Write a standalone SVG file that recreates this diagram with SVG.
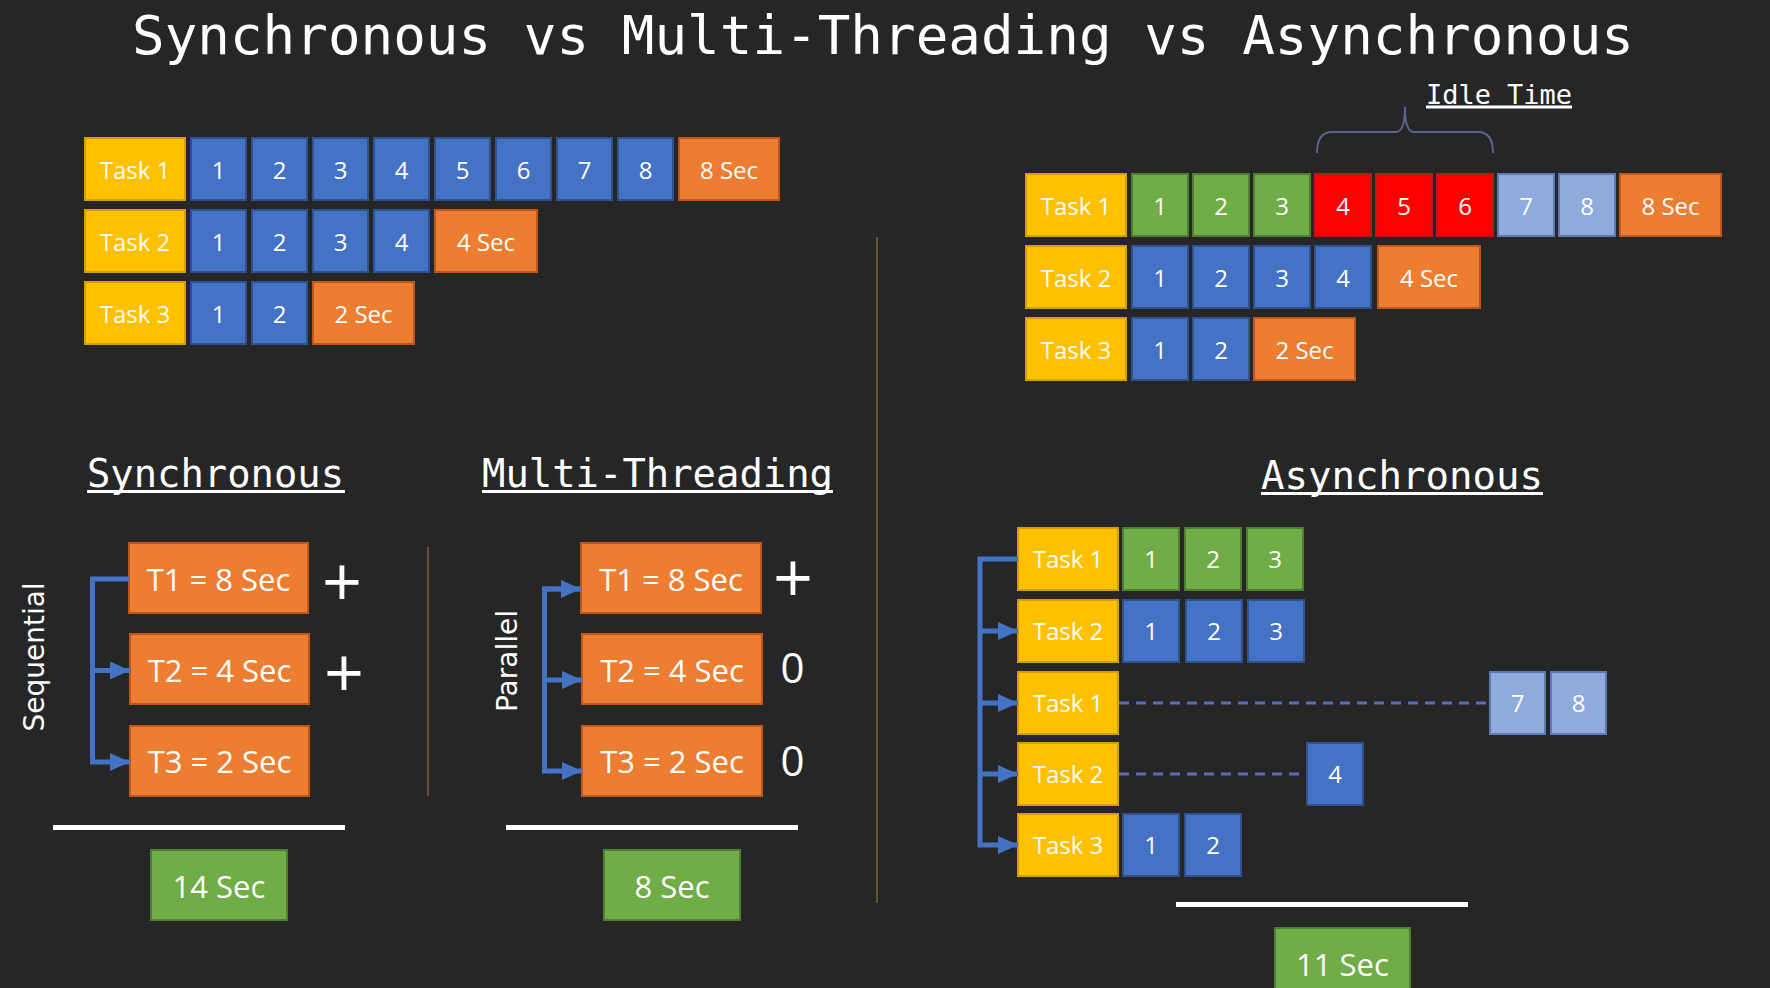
<svg xmlns="http://www.w3.org/2000/svg" width="1770" height="988" viewBox="0 0 1770 988">
<style>
.task{fill:#FFC000;stroke:#D69E00;stroke-width:2}
.blu{fill:#4472C4;stroke:#2F528F;stroke-width:2}
.org{fill:#ED7D31;stroke:#C0561A;stroke-width:2}
.grn{fill:#70AD47;stroke:#507E32;stroke-width:2}
.red{fill:#FF0000;stroke:#B81818;stroke-width:2}
.lbl{fill:#8FAADC;stroke:#5E78B8;stroke-width:2}
.t{font-family:"Open Sans","Liberation Sans",sans-serif;font-size:24px;fill:#fff;text-anchor:middle}
.tb{font-size:31px}
.mono{font-family:"DejaVu Sans Mono","Liberation Mono",monospace;fill:#fff}
.side{font-family:"DejaVu Sans","Liberation Sans",sans-serif;font-size:28px;fill:#fff;text-anchor:middle}
.sym{font-family:"Open Sans","Liberation Sans",sans-serif;fill:#fff;text-anchor:middle}
.conn{fill:none;stroke:#4472C4;stroke-width:5}
.dash{fill:none;stroke:#5B6BB5;stroke-width:3;stroke-dasharray:10 7}
.rule{stroke:#fff;stroke-width:5}
.ul{stroke:#fff;stroke-width:3}
.sep{stroke:#7A6230;stroke-width:1.5}
</style>
<defs>
<marker id="ah" markerUnits="userSpaceOnUse" markerWidth="20" markerHeight="18" refX="20" refY="9" orient="auto">
<path d="M0,0 L20,9 L0,18 z" fill="#4472C4"/>
</marker>
</defs>
<rect x="0" y="0" width="1770" height="988" fill="#262626"/>

<text class="mono" x="132" y="54" font-size="54" textLength="1502" lengthAdjust="spacingAndGlyphs">Synchronous vs Multi-Threading vs Asynchronous</text>

<!-- separators -->
<line class="sep" x1="877" y1="237" x2="877" y2="903"/>
<line class="sep" x1="428" y1="547" x2="428" y2="796"/>

<!-- Top-left sync rows -->
<g id="tl-r1">
<rect class="task" x="85" y="138" width="100" height="62"/><text class="t" x="135" y="178.5">Task 1</text>
<rect class="blu" x="191" y="138" width="55" height="62"/><text class="t" x="218.5" y="178.5">1</text>
<rect class="blu" x="252" y="138" width="55" height="62"/><text class="t" x="279.5" y="178.5">2</text>
<rect class="blu" x="313" y="138" width="55" height="62"/><text class="t" x="340.5" y="178.5">3</text>
<rect class="blu" x="374" y="138" width="55" height="62"/><text class="t" x="401.5" y="178.5">4</text>
<rect class="blu" x="435" y="138" width="55" height="62"/><text class="t" x="462.5" y="178.5">5</text>
<rect class="blu" x="496" y="138" width="55" height="62"/><text class="t" x="523.5" y="178.5">6</text>
<rect class="blu" x="557" y="138" width="55" height="62"/><text class="t" x="584.5" y="178.5">7</text>
<rect class="blu" x="618" y="138" width="55" height="62"/><text class="t" x="645.5" y="178.5">8</text>
<rect class="org" x="679" y="138" width="100" height="62"/><text class="t" x="729" y="178.5">8 Sec</text>
</g>
<g id="tl-r2">
<rect class="task" x="85" y="210" width="100" height="62"/><text class="t" x="135" y="250.5">Task 2</text>
<rect class="blu" x="191" y="210" width="55" height="62"/><text class="t" x="218.5" y="250.5">1</text>
<rect class="blu" x="252" y="210" width="55" height="62"/><text class="t" x="279.5" y="250.5">2</text>
<rect class="blu" x="313" y="210" width="55" height="62"/><text class="t" x="340.5" y="250.5">3</text>
<rect class="blu" x="374" y="210" width="55" height="62"/><text class="t" x="401.5" y="250.5">4</text>
<rect class="org" x="435" y="210" width="102" height="62"/><text class="t" x="486" y="250.5">4 Sec</text>
</g>
<g id="tl-r3">
<rect class="task" x="85" y="282" width="100" height="62"/><text class="t" x="135" y="322.5">Task 3</text>
<rect class="blu" x="191" y="282" width="55" height="62"/><text class="t" x="218.5" y="322.5">1</text>
<rect class="blu" x="252" y="282" width="55" height="62"/><text class="t" x="279.5" y="322.5">2</text>
<rect class="org" x="313" y="282" width="101" height="62"/><text class="t" x="363.5" y="322.5">2 Sec</text>
</g>

<!-- Top-right async rows -->
<g id="idle">
<path d="M1317,153 Q1317,132 1332,132 H1396 Q1405,132 1405,107 Q1405,132 1414,132 H1478 Q1493,132 1493,153" fill="none" stroke="#5A6490" stroke-width="2"/>
<text class="mono" x="1426" y="104" font-size="27" textLength="146" lengthAdjust="spacingAndGlyphs">Idle Time</text>
<line class="ul" x1="1426" y1="107" x2="1572" y2="107" stroke-width="2"/>
</g>
<g id="tr-r1">
<rect class="task" x="1026" y="174" width="100" height="62"/><text class="t" x="1076" y="214.5">Task 1</text>
<rect class="grn" x="1132" y="174" width="56" height="62"/><text class="t" x="1160" y="214.5">1</text>
<rect class="grn" x="1193" y="174" width="56" height="62"/><text class="t" x="1221" y="214.5">2</text>
<rect class="grn" x="1254" y="174" width="56" height="62"/><text class="t" x="1282" y="214.5">3</text>
<rect class="red" x="1315" y="174" width="56" height="62"/><text class="t" x="1343" y="214.5">4</text>
<rect class="red" x="1376" y="174" width="56" height="62"/><text class="t" x="1404" y="214.5">5</text>
<rect class="red" x="1437" y="174" width="56" height="62"/><text class="t" x="1465" y="214.5">6</text>
<rect class="lbl" x="1498" y="174" width="56" height="62"/><text class="t" x="1526" y="214.5">7</text>
<rect class="lbl" x="1559" y="174" width="56" height="62"/><text class="t" x="1587" y="214.5">8</text>
<rect class="org" x="1620" y="174" width="101" height="62"/><text class="t" x="1670.5" y="214.5">8 Sec</text>
</g>
<g id="tr-r2">
<rect class="task" x="1026" y="246" width="100" height="62"/><text class="t" x="1076" y="286.5">Task 2</text>
<rect class="blu" x="1132" y="246" width="56" height="62"/><text class="t" x="1160" y="286.5">1</text>
<rect class="blu" x="1193" y="246" width="56" height="62"/><text class="t" x="1221" y="286.5">2</text>
<rect class="blu" x="1254" y="246" width="56" height="62"/><text class="t" x="1282" y="286.5">3</text>
<rect class="blu" x="1315" y="246" width="56" height="62"/><text class="t" x="1343" y="286.5">4</text>
<rect class="org" x="1378" y="246" width="102" height="62"/><text class="t" x="1429" y="286.5">4 Sec</text>
</g>
<g id="tr-r3">
<rect class="task" x="1026" y="318" width="100" height="62"/><text class="t" x="1076" y="358.5">Task 3</text>
<rect class="blu" x="1132" y="318" width="56" height="62"/><text class="t" x="1160" y="358.5">1</text>
<rect class="blu" x="1193" y="318" width="56" height="62"/><text class="t" x="1221" y="358.5">2</text>
<rect class="org" x="1254" y="318" width="101" height="62"/><text class="t" x="1304.5" y="358.5">2 Sec</text>
</g>

<!-- Headings -->
<g id="h-sync">
<text class="mono" x="87" y="487" font-size="39" textLength="257" lengthAdjust="spacingAndGlyphs">Synchronous</text>
<line class="ul" x1="87" y1="491.5" x2="345" y2="491.5"/>
</g>
<g id="h-mt">
<text class="mono" x="482" y="487" font-size="39" textLength="351" lengthAdjust="spacingAndGlyphs">Multi-Threading</text>
<line class="ul" x1="482" y1="491.5" x2="833" y2="491.5"/>
</g>
<g id="h-async">
<text class="mono" x="1261" y="489" font-size="39" textLength="282" lengthAdjust="spacingAndGlyphs">Asynchronous</text>
<line class="ul" x1="1261" y1="493.5" x2="1543" y2="493.5"/>
</g>

<!-- Synchronous -->
<text class="side" transform="translate(44,657) rotate(-90)">Sequential</text>
<g id="s-t1"><rect class="org" x="129" y="543" width="179" height="70"/><text class="t tb" x="218.5" y="591">T1 = 8 Sec</text></g>
<g id="s-t2"><rect class="org" x="130" y="634" width="179" height="70"/><text class="t tb" x="219.5" y="682">T2 = 4 Sec</text></g>
<g id="s-t3"><rect class="org" x="130" y="726" width="179" height="70"/><text class="t tb" x="219.5" y="773">T3 = 2 Sec</text></g>
<text class="sym" x="342" y="607" font-size="70">+</text>
<text class="sym" x="344" y="698" font-size="70">+</text>
<line class="rule" x1="53" y1="827.5" x2="345" y2="827.5"/>
<g id="s-res"><rect class="grn" x="151" y="850" width="136" height="70"/><text class="t tb" x="219" y="898">14 Sec</text></g>

<!-- Multi-Threading -->
<text class="side" transform="translate(517,661) rotate(-90)">Parallel</text>
<g id="m-t1"><rect class="org" x="581" y="543" width="180" height="70"/><text class="t tb" x="671" y="591">T1 = 8 Sec</text></g>
<g id="m-t2"><rect class="org" x="582" y="634" width="180" height="70"/><text class="t tb" x="672" y="682">T2 = 4 Sec</text></g>
<g id="m-t3"><rect class="org" x="582" y="726" width="180" height="70"/><text class="t tb" x="672" y="773">T3 = 2 Sec</text></g>
<text class="sym" x="793" y="603" font-size="70">+</text>
<text class="sym" x="792.5" y="683" font-size="42">0</text>
<text class="sym" x="792.5" y="776" font-size="42">0</text>
<line class="rule" x1="506" y1="827.5" x2="798" y2="827.5"/>
<g id="m-res"><rect class="grn" x="604" y="850" width="136" height="70"/><text class="t tb" x="672" y="898">8 Sec</text></g>

<!-- Asynchronous -->
<g id="a-r1">
<rect class="task" x="1018" y="528" width="100" height="62"/><text class="t" x="1068" y="568">Task 1</text>
<rect class="grn" x="1123" y="528" width="56" height="62"/><text class="t" x="1151" y="568">1</text>
<rect class="grn" x="1185" y="528" width="56" height="62"/><text class="t" x="1213" y="568">2</text>
<rect class="grn" x="1247" y="528" width="56" height="62"/><text class="t" x="1275" y="568">3</text>
</g>
<g id="a-r2">
<rect class="task" x="1018" y="600" width="100" height="62"/><text class="t" x="1068" y="640">Task 2</text>
<rect class="blu" x="1123" y="600" width="56" height="62"/><text class="t" x="1151" y="640">1</text>
<rect class="blu" x="1186" y="600" width="56" height="62"/><text class="t" x="1214" y="640">2</text>
<rect class="blu" x="1248" y="600" width="56" height="62"/><text class="t" x="1276" y="640">3</text>
</g>
<g id="a-r3">
<rect class="task" x="1018" y="672" width="100" height="62"/><text class="t" x="1068" y="712">Task 1</text>
<rect class="lbl" x="1490" y="672" width="55" height="62"/><text class="t" x="1517.5" y="712">7</text>
<rect class="lbl" x="1551" y="672" width="55" height="62"/><text class="t" x="1578.5" y="712">8</text>
</g>
<g id="a-r4">
<rect class="task" x="1018" y="743" width="100" height="62"/><text class="t" x="1068" y="783">Task 2</text>
<rect class="blu" x="1307" y="743" width="56" height="62"/><text class="t" x="1335" y="783">4</text>
</g>
<g id="a-r5">
<rect class="task" x="1018" y="814" width="100" height="62"/><text class="t" x="1068" y="854">Task 3</text>
<rect class="blu" x="1123" y="814" width="56" height="62"/><text class="t" x="1151" y="854">1</text>
<rect class="blu" x="1185" y="814" width="56" height="62"/><text class="t" x="1213" y="854">2</text>
</g>
<line class="rule" x1="1176" y1="904.5" x2="1468" y2="904.5"/>
<g id="a-res"><rect class="grn" x="1275" y="928" width="135" height="72"/><text class="t tb" x="1342.5" y="976">11 Sec</text></g>

<!-- Connectors -->
<g id="connectors">
<path class="conn" d="M129,579 H92.5 V762 H130" marker-end="url(#ah)"/>
<path class="conn" d="M92.5,670.5 H130" marker-end="url(#ah)"/>
<path class="conn" d="M581,589 H544.5 V771 H582" marker-end="url(#ah)"/>
<path class="conn" d="M544.5,589 H581" marker-end="url(#ah)"/>
<path class="conn" d="M544.5,680 H582" marker-end="url(#ah)"/>
<path class="conn" d="M1018,559 H980 V845 H1018" marker-end="url(#ah)"/>
<path class="conn" d="M980,631 H1018" marker-end="url(#ah)"/>
<path class="conn" d="M980,703 H1018" marker-end="url(#ah)"/>
<path class="conn" d="M980,774 H1018" marker-end="url(#ah)"/>
<path class="dash" d="M1119,703 H1489"/>
<path class="dash" d="M1119,774 H1306"/>
</g>
</svg>
